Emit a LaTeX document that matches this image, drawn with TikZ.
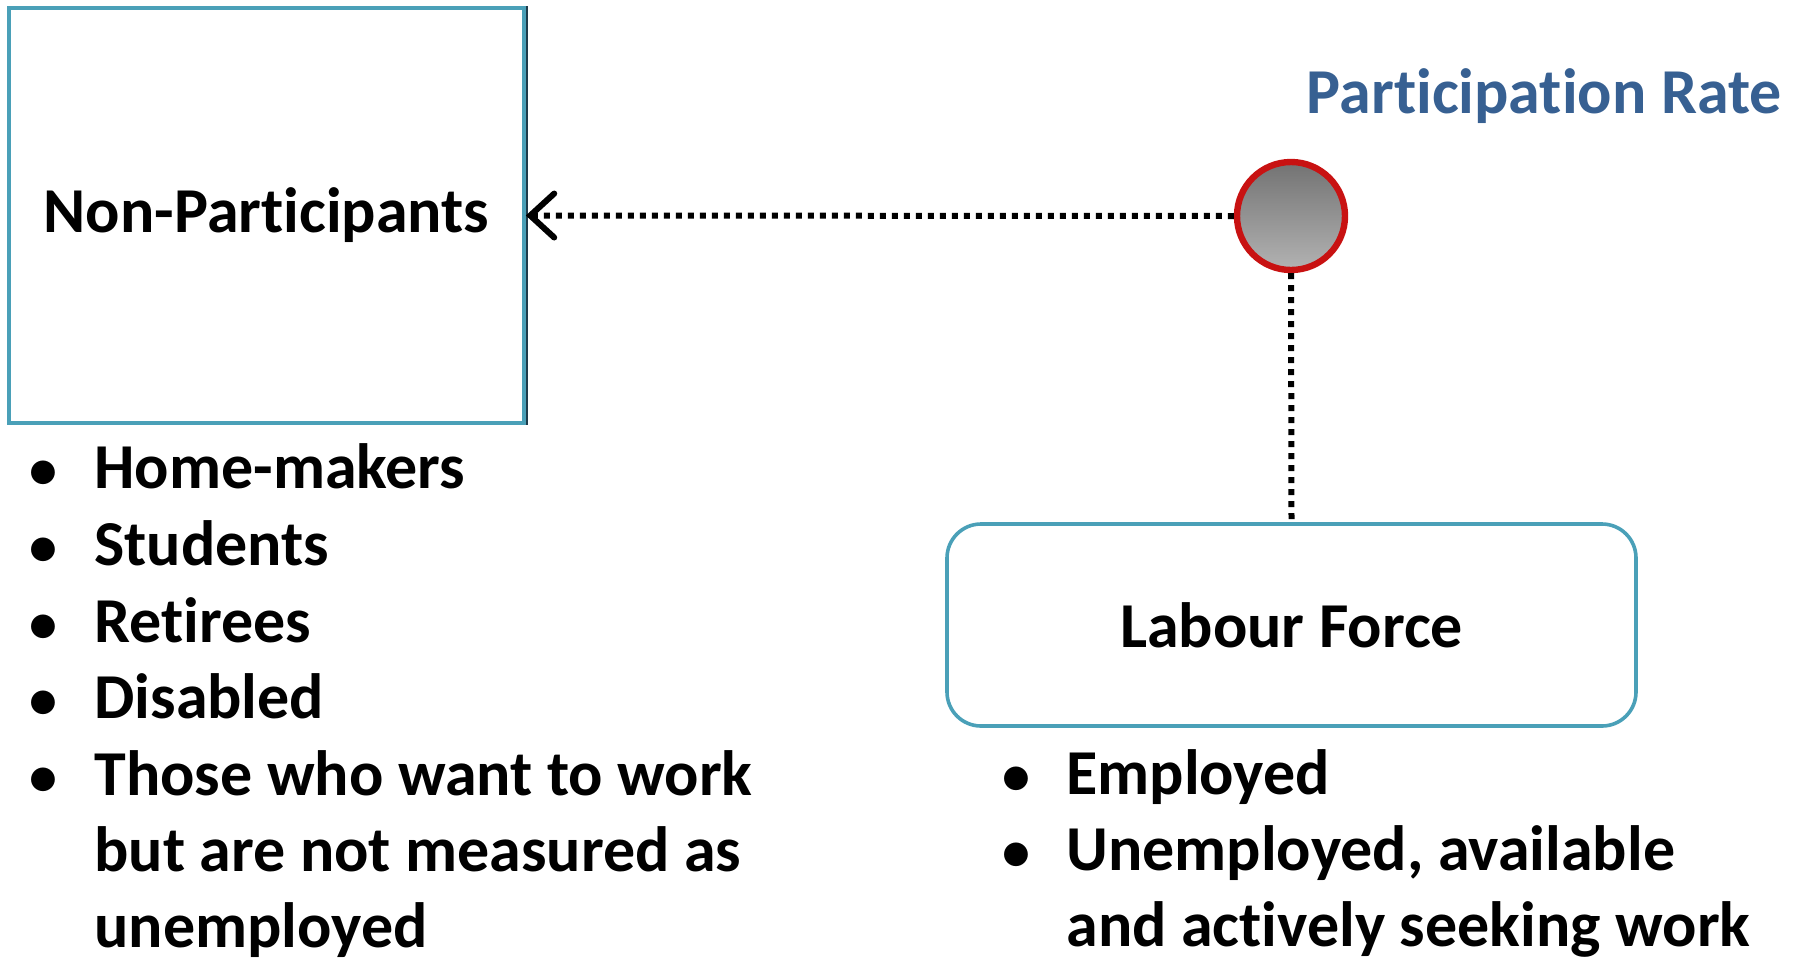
\documentclass[tikz,border=0pt]{standalone}
\usepackage{fontspec}
\setmainfont{Carlito}[RawFeature={-liga;-clig;-dlig;-calt}]
\usetikzlibrary{arrows.meta}
\definecolor{boxteal}{RGB}{74,160,184}
\definecolor{boxdark}{RGB}{30,60,75}
\definecolor{rateblue}{RGB}{55,96,146}
\definecolor{ringred}{RGB}{200,18,18}
\tikzset{
	headtext/.style={font=\fontsize{32}{38}\selectfont\bfseries},
	listtext/.style={font=\fontsize{32}{38}\selectfont\bfseries, anchor=base west, inner sep=0pt},
	listdot/.style={font=\fontsize{28}{38}\selectfont\bfseries, anchor=base, inner sep=0pt},
	dotline/.style={line width=3pt, dash pattern=on 3pt off 3pt},
}

\begin{document}
\begin{tikzpicture}[x=0.5pt, y=-0.5pt]
		\useasboundingbox (0, 0) rectangle (1794, 960);
		%%%%% START %%%%%
		
		\node[draw=boxteal, line width=1.8pt, minimum width=257.5pt, minimum height=207.5pt, headtext] (nonpart) at (266.5, 215.5) {Non-Part\kern0pt icipants};
		\draw[boxdark, line width=1pt] ([xshift=0.8pt]nonpart.north east) -- ([xshift=0.8pt]nonpart.south east);
		
		\node[draw=boxteal, line width=1.8pt, rounded corners=17pt, minimum width=344.5pt, minimum height=101pt, headtext] (labour) at (1291.5, 625) {Labour Force};
		
		\node[circle, draw=ringred, line width=3.2pt, minimum size=54pt, top color=black!55, bottom color=black!30] (prball) at (1291, 216) {};
		\node[headtext, color=rateblue, anchor=base east, inner sep=0pt] (prlabel) at (1782, 113) {Part\kern0pt icipat\kern0pt ion Rate};
		
		\draw[dotline, -{Straight Barb[length=12pt, width=22pt, line width=3pt, line cap=round]}] (prball.west) -- (nonpart.east);
		\draw[dotline] (prball.south) -- (labour.north);
		
		% non-participants list
		\node[listdot] (nb1) at (43, 488) {\textbullet};
		\node[listtext] (np1) at (94, 488) {Home-makers};
		\node[listdot] (nb2) at (43, 565) {\textbullet};
		\node[listtext] (np2) at (94, 565) {Students};
		\node[listdot] (nb3) at (43, 642) {\textbullet};
		\node[listtext] (np3) at (94, 642) {Retirees};
		\node[listdot] (nb4) at (43, 718) {\textbullet};
		\node[listtext] (np4) at (94, 718) {Disabled};
		\node[listdot] (nb5) at (43, 795) {\textbullet};
		\node[listtext] (np5) at (94, 795) {Those who want to work};
		\node[listtext] (np6) at (94, 871) {but are not measured as};
		\node[listtext] (np7) at (94, 947) {unemployed};
		
		% labour force list
		\node[listdot] (lb1) at (1016, 794) {\textbullet};
		\node[listtext] (lf1) at (1066, 794) {Employed};
		\node[listdot] (lb2) at (1016, 870) {\textbullet};
		\node[listtext] (lf2) at (1066, 870) {Unemployed, available};
		\node[listtext] (lf3) at (1066, 946) {and actively seeking work};
		
		%%%%% END %%%%%
\end{tikzpicture}
\end{document}
